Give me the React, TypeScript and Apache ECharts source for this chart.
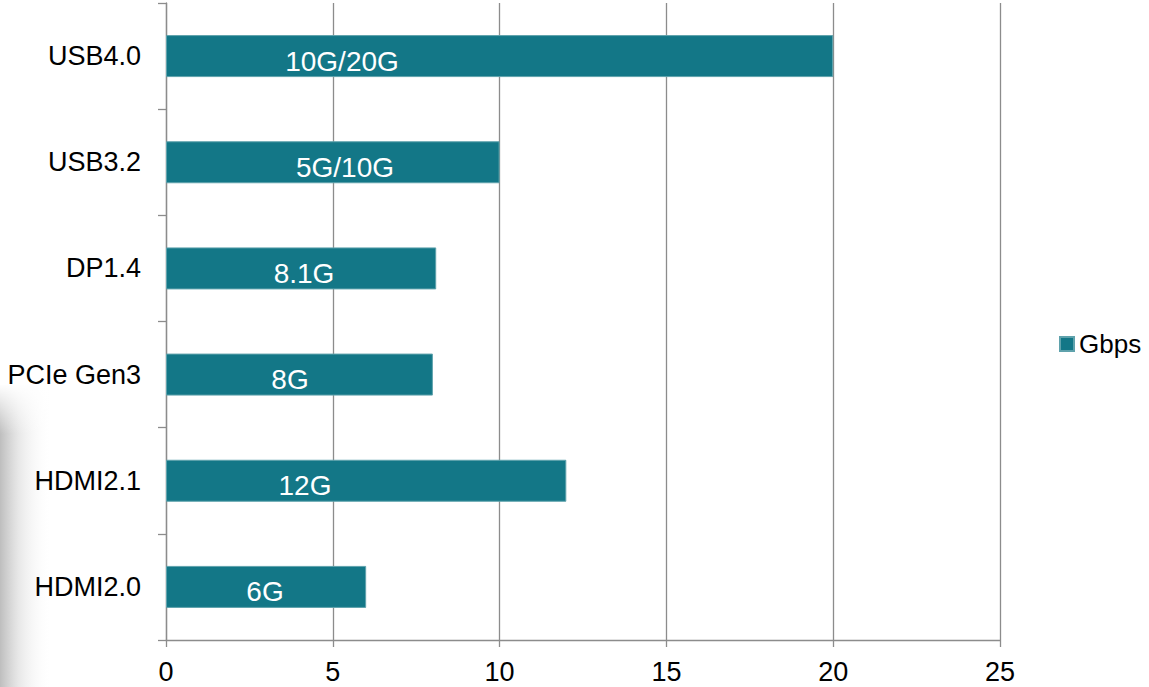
import React, { useEffect, useRef } from "react";
import * as echarts from "echarts";

const categories = ["HDMI2.0", "HDMI2.1", "PCIe Gen3", "DP1.4", "USB3.2", "USB4.0"];
const values = [6, 12, 8, 8.1, 10, 20];
const barLabels = ["6G", "12G", "8G", "8.1G", "5G/10G", "10G/20G"];
const xTicks = [0, 5, 10, 15, 20, 25];
const seriesName = "Gbps";
// label centre offsets (px from bar start), styling only
const labelOffsets = [99, 139, 124, 138, 179, 176];

export default function App() {
  const ref = useRef<HTMLDivElement>(null);
  useEffect(() => {
    if (!ref.current) return;
    const chart = echarts.init(ref.current, null, { renderer: "svg" });
    const font = "'Liberation Sans', Arial, sans-serif";
    chart.setOption({
      animation: false,
      backgroundColor: "#ffffff",
      textStyle: { fontFamily: font },
      graphic: [
        {
          type: "rect",
          left: 0,
          top: 385,
          shape: { width: 52, height: 302 },
          style: {
            fill: new echarts.graphic.LinearGradient(0, 0, 1, 0, [
              { offset: 0, color: "rgba(190,190,190,1)" },
              { offset: 0.35, color: "rgba(225,225,225,0.8)" },
              { offset: 1, color: "rgba(255,255,255,0)" },
            ]),
          },
          z: -10,
        },
        {
          type: "rect",
          left: 0,
          top: 384,
          shape: { width: 54, height: 50 },
          style: {
            fill: new echarts.graphic.LinearGradient(0, 0, 0, 1, [
              { offset: 0, color: "rgba(255,255,255,1)" },
              { offset: 1, color: "rgba(255,255,255,0)" },
            ]),
          },
          z: -9,
        },
      ],
      grid: { left: 166, right: 149, top: 3, bottom: 47, containLabel: false },
      legend: {
        data: [seriesName],
        left: 1054,
        top: 326,
        orient: "vertical",
        itemWidth: 14,
        itemHeight: 14,
        icon: "rect",
        textStyle: { fontSize: 26, color: "#000", fontFamily: font },
      },
      xAxis: {
        type: "value",
        min: xTicks[0],
        max: xTicks[xTicks.length - 1],
        interval: 5,
        axisLine: { show: true, lineStyle: { color: "#8c8c8c", width: 1.3 } },
        axisTick: { show: true, length: 7, lineStyle: { color: "#8c8c8c", width: 1.3 } },
        splitLine: { show: true, lineStyle: { color: "#8c8c8c", width: 1.3 } },
        axisLabel: { fontSize: 27, color: "#000", margin: 18, fontFamily: font },
      },
      yAxis: {
        type: "category",
        data: categories,
        axisLine: { show: true, lineStyle: { color: "#8c8c8c", width: 1.3 } },
        axisTick: { show: true, length: 8, lineStyle: { color: "#8c8c8c", width: 1.3 } },
        axisLabel: { fontSize: 27, color: "#000", margin: 25, fontFamily: font },
        splitLine: { show: false },
      },
      series: [
        {
          name: seriesName,
          type: "bar",
          barWidth: 42,
          itemStyle: { color: "#137787", borderColor: "#5fa2ac", borderWidth: 1 },
          data: values.map((v, i) => ({
            value: v,
            label: {
              show: true,
              formatter: barLabels[i],
              position: [labelOffsets[i], "62%"],
              align: "center",
              verticalAlign: "middle",
              color: "#ffffff",
              fontSize: 28,
              fontFamily: font,
            },
          })),
        },
      ],
    });
    return () => chart.dispose();
  }, []);
  return (
    <div
      ref={ref}
      style={{ position: "fixed", left: 0, top: 0, width: 1149, height: 687 }}
    />
  );
}
